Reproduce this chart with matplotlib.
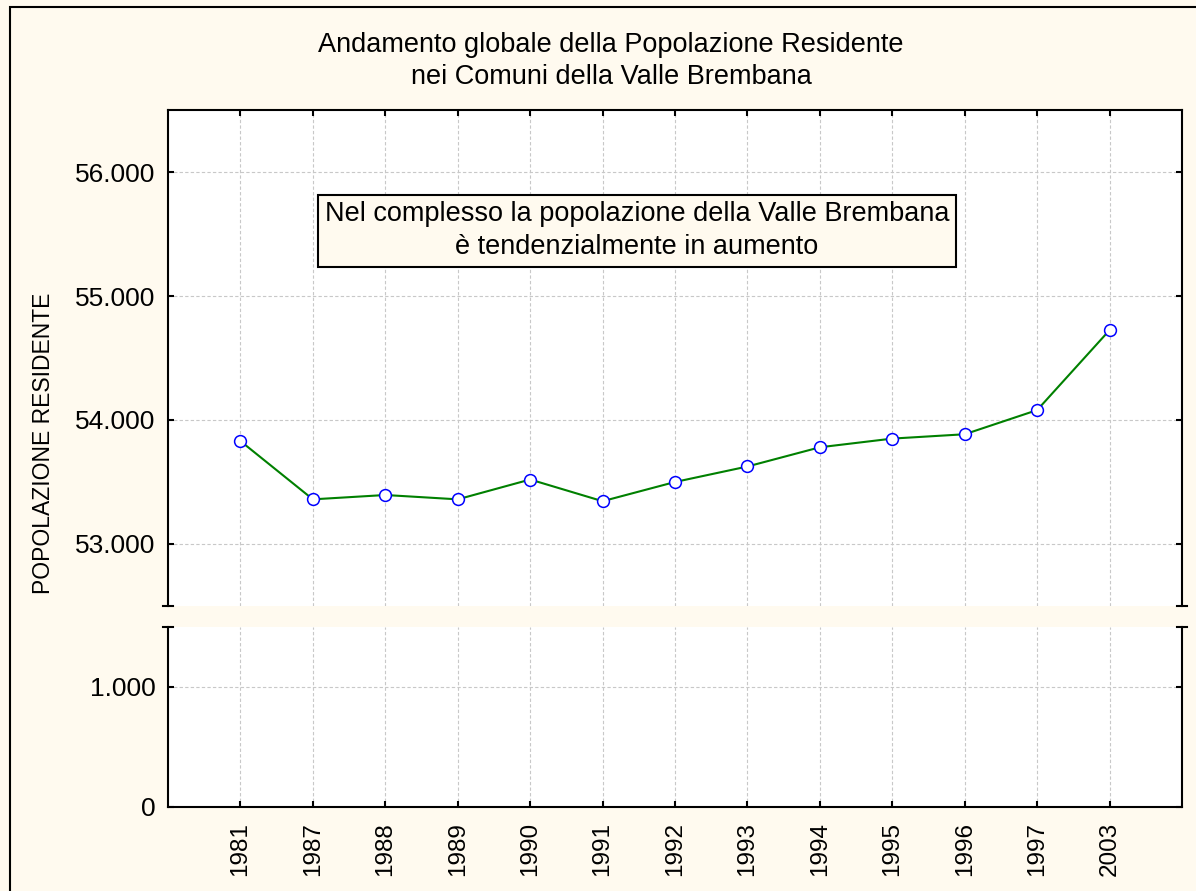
import matplotlib.pyplot as plt
from matplotlib.patches import Rectangle
from matplotlib.ticker import FuncFormatter

plt.rcParams["font.family"] = ["Liberation Sans", "DejaVu Sans"]

# Dati: popolazione residente totale nei comuni della Valle Brembana
anni = ["1981", "1987", "1988", "1989", "1990", "1991", "1992",
        "1993", "1994", "1995", "1996", "1997", "2003"]
popolazione = [53830, 53360, 53395, 53360, 53520, 53345, 53500,
               53625, 53780, 53850, 53885, 54080, 54725]
tick_alti = [53000, 54000, 55000, 56000]
tick_bassi = [0, 1000]

sfondo = "#fffaef"
x = list(range(len(anni)))

fig = plt.figure(figsize=(11.96, 8.91), dpi=100, facecolor=sfondo)
ax_alto = fig.add_axes([0.1405, 0.3199, 0.8478, 0.5566])
ax_basso = fig.add_axes([0.1405, 0.0948, 0.8478, 0.2015])

# cornice esterna
fig.patches.append(Rectangle((10 / 1196, -0.2), 1.5, 1.2 - 8 / 891 + 0.001,
                             transform=fig.transFigure, fill=False,
                             edgecolor="black", linewidth=1.5, zorder=0))


def migliaia(v, pos):
    return f"{int(v):,}".replace(",", ".")


for ax in (ax_alto, ax_basso):
    ax.set_facecolor("white")
    ax.plot(x, popolazione, color="#008000", linewidth=1.5, marker="o",
            markersize=8.5, markerfacecolor="white", markeredgecolor="#0000ff",
            markeredgewidth=1.1, zorder=3)
    ax.set_xlim(-1, len(anni))
    ax.set_xticks(x)
    ax.grid(True, color="#c8c8c8", linestyle=(0, (3, 2)), linewidth=0.8)
    ax.tick_params(direction="in", length=4, width=1.5, top=True, right=True,
                   labelsize=19, pad=9)
    ax.yaxis.set_major_formatter(FuncFormatter(migliaia))
    for s in ax.spines.values():
        s.set_linewidth(1.5)

ax_alto.set_ylim(52500, 56500)
ax_alto.set_yticks(tick_alti)
ax_alto.spines["bottom"].set_visible(False)
ax_alto.tick_params(bottom=False, labelbottom=False)

ax_basso.set_ylim(0, 1500)
ax_basso.set_yticks(tick_bassi)
ax_basso.spines["top"].set_visible(False)
ax_basso.tick_params(top=False)
ax_basso.set_xticklabels(anni, rotation=90)
ax_basso.tick_params(axis="x", labelsize=17.5, pad=11)

# segni di interruzione dell'asse
d = 5 / 1014
for xx in (0, 1):
    ax_alto.plot([xx - d, xx + d], [0, 0], color="black", linewidth=1.5,
                 transform=ax_alto.transAxes, clip_on=False)
    ax_basso.plot([xx - d, xx + d], [1, 1], color="black", linewidth=1.5,
                  transform=ax_basso.transAxes, clip_on=False)

fig.text(0.511, 0.9315, "Andamento globale della Popolazione Residente\nnei Comuni della Valle Brembana",
         ha="center", va="center", fontsize=19.5, linespacing=1.32)
fig.text(0.036, 0.502, "POPOLAZIONE RESIDENTE", rotation=90,
         ha="center", va="center", fontsize=16.5)

ax_alto.text(0.4625, 0.757, "Nel complesso la popolazione della Valle Brembana\nè tendenzialmente in aumento",
             transform=ax_alto.transAxes, ha="center", va="center",
             fontsize=19.5, linespacing=1.32, zorder=5,
             bbox=dict(boxstyle="square,pad=0.25", facecolor=sfondo,
                       edgecolor="black", linewidth=1.5))

plt.savefig("out.png", dpi=100, facecolor=sfondo)
